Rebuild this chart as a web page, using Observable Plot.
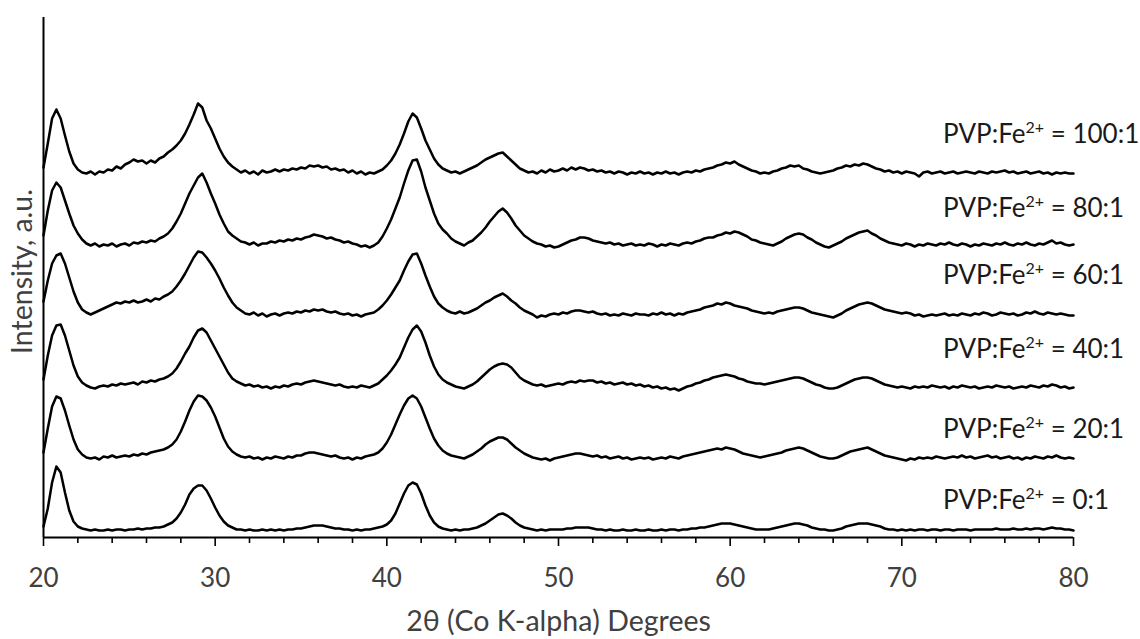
<!DOCTYPE html>
<html>
<head>
<meta charset="utf-8">
<script src="https://cdn.jsdelivr.net/npm/d3@7"></script>
<script src="https://cdn.jsdelivr.net/npm/@observablehq/plot@0.6"></script>
<style>
  html, body { margin: 0; padding: 0; background: #ffffff; }
  #chart { width: 1140px; height: 639px; }
</style>
</head>
<body>
<div id="chart"></div>
<script>
// ---- Data ----
// XRD patterns sampled on a 0.25° grid from 20° to 80° (2θ, Co K-alpha)
const angleStart = 20;
const angleStep = 0.25;

const samples = ["PVP:Fe2+ = 0:1", "PVP:Fe2+ = 20:1", "PVP:Fe2+ = 40:1", "PVP:Fe2+ = 60:1", "PVP:Fe2+ = 80:1", "PVP:Fe2+ = 100:1"];
const ratios = ["0:1", "20:1", "40:1", "60:1", "80:1", "100:1"];
// vertical stacking offset of each pattern (a.u.)
const offsets = [7, 79, 150, 222, 292, 364];

const pvp0 = [
  4,22,48,64,58,38,20,9,4,2,1,0,1,0,0,1,0,1,1,0,
  1,1,2,1,2,2,3,3,4,6,8,12,18,26,36,42,45,45,40,32,
  23,15,9,5,3,1,1,0,1,0,0,1,0,1,0,1,0,1,1,2,
  2,3,4,5,5,5,4,3,2,2,1,1,0,1,0,1,1,2,3,4,
  6,10,17,27,37,45,48,46,37,25,15,8,4,2,1,0,1,0,1,1,
  2,3,5,7,10,13,16,17,15,12,8,5,3,2,1,0,1,0,1,1,
  1,1,2,2,3,3,3,3,2,1,1,0,1,0,0,1,0,0,1,0,
  0,1,0,0,1,0,1,1,0,1,1,2,2,3,3,4,5,6,7,7,
  7,6,5,4,3,2,1,1,1,1,2,3,4,5,6,7,7,6,5,3,
  2,1,1,0,0,1,2,4,5,6,7,7,7,6,5,4,2,1,1,0,
  1,0,1,0,1,1,0,1,1,0,1,1,0,1,1,1,0,1,1,1,
  1,1,2,1,1,1,2,1,1,2,1,2,2,1,2,3,2,2,1,1,
  0
];
const pvp20 = [
  6,30,52,62,60,48,33,19,9,4,1,0,1,-1,2,1,3,1,2,3,
  2,4,3,5,4,6,7,8,9,11,14,19,27,37,48,57,63,62,58,51,
  42,31,20,12,7,4,2,1,2,0,1,-1,1,0,2,1,0,2,1,3,
  3,5,6,6,5,4,3,2,3,1,0,1,-1,1,0,2,3,4,6,10,
  16,24,34,44,53,60,63,60,52,41,30,20,13,8,5,3,2,1,0,2,
  4,7,10,14,17,19,21,21,19,15,11,8,5,3,1,0,-1,0,-2,0,
  1,2,3,4,5,5,4,3,2,3,1,2,0,1,2,0,1,-1,0,1,
  0,1,-1,0,1,0,2,1,0,2,3,4,5,6,7,8,9,10,9,11,
  10,9,7,5,4,3,2,1,2,3,4,5,6,8,9,10,11,10,8,6,
  4,2,1,0,0,1,3,5,7,8,9,10,11,9,7,5,3,2,1,0,
  -1,-2,0,-1,1,0,1,0,2,1,0,1,2,1,3,1,2,0,1,2,
  3,1,2,0,1,2,0,1,-1,1,0,2,1,0,2,1,3,1,0,1,
  0
];
const pvp40 = [
  8,32,52,62,63,52,37,22,11,5,2,0,-1,1,2,1,3,2,4,3,
  4,5,3,6,5,7,6,8,9,11,14,19,26,34,41,50,57,59,55,47,
  39,31,23,15,9,6,4,2,3,1,2,0,1,-1,1,0,2,1,3,4,
  3,5,6,7,6,5,4,3,2,3,1,0,1,0,2,1,0,2,4,8,
  12,17,23,30,40,50,58,62,56,45,32,21,13,8,5,3,1,0,-1,1,
  3,6,10,14,18,21,23,24,23,20,15,10,7,5,3,2,3,1,2,3,
  4,3,5,6,5,7,6,7,7,5,6,4,5,3,4,5,3,4,2,3,
  1,2,0,1,-1,0,-2,-1,-3,-1,1,2,4,5,7,8,10,11,12,13,
  12,11,9,8,6,5,4,4,3,4,5,6,7,8,9,10,10,9,7,5,
  3,2,0,-1,-1,0,2,4,6,8,9,10,10,9,7,5,3,2,1,0,
  1,0,-1,1,0,1,0,2,1,0,1,-1,1,0,2,1,0,1,-1,0,
  1,0,2,1,0,1,-1,0,1,0,2,1,0,2,1,3,2,0,1,-1,
  0
];
const pvp60 = [
  14,35,52,60,62,52,38,24,13,6,3,1,3,5,7,9,11,13,12,14,
  13,15,13,14,16,14,17,16,19,21,24,29,35,42,50,58,64,63,58,52,
  45,37,28,20,13,8,5,2,1,3,0,2,-1,1,2,0,2,3,2,4,
  3,5,4,6,5,6,4,3,4,2,1,2,0,1,-1,1,2,3,6,10,
  15,21,28,35,45,54,61,62,52,40,29,19,12,8,5,3,2,4,2,3,
  5,7,10,13,15,18,20,22,19,15,12,8,5,3,1,-2,0,-1,1,2,
  1,3,2,4,5,5,4,3,4,2,1,2,0,1,0,2,1,0,2,1,
  1,0,2,1,3,1,2,0,2,1,3,4,5,6,8,9,10,12,11,13,
  12,10,9,8,7,5,4,3,2,3,2,4,5,6,7,8,8,7,5,3,
  2,1,0,-1,-2,0,2,5,7,9,11,12,13,12,10,8,6,5,4,3,
  2,3,2,0,1,-1,0,1,0,1,2,0,1,0,2,1,0,2,1,3,
  2,0,1,3,2,1,2,0,1,3,2,4,2,1,3,2,1,2,1,0,
  0
];
const pvp80 = [
  10,35,55,63,58,45,32,20,12,6,2,0,2,-1,1,0,2,-1,1,2,
  0,3,2,4,3,5,4,7,9,12,17,24,32,42,52,60,68,72,63,52,
  42,31,22,14,10,7,4,3,1,3,0,2,2,4,3,5,4,6,5,7,
  6,8,9,11,10,9,7,8,6,5,3,4,2,1,-1,0,-2,0,3,9,
  17,26,37,48,62,75,85,86,74,58,45,32,22,16,12,7,4,2,0,3,
  5,9,13,18,24,29,34,37,33,27,20,15,10,7,4,2,1,-1,0,-2,
  -1,1,3,5,6,8,8,7,5,4,3,2,3,1,2,0,1,2,0,1,
  0,2,1,-1,1,0,2,1,0,2,3,2,4,5,7,8,8,10,11,13,
  12,14,13,11,9,6,5,3,2,1,0,2,4,7,9,11,12,11,8,6,
  3,1,-1,-2,0,2,4,7,9,11,13,14,15,12,10,7,5,3,2,1,
  0,2,1,-1,1,0,2,1,0,2,1,3,1,0,2,1,-1,1,0,2,
  1,0,2,1,3,1,0,2,1,3,1,0,2,1,3,5,2,3,1,0,
  1
];
const pvp100 = [
  6,30,55,64,55,38,22,10,4,1,0,2,-1,2,1,4,3,7,5,9,
  11,14,12,13,10,13,11,15,17,21,24,28,33,40,49,59,70,66,53,45,
  35,25,17,11,7,4,1,3,0,2,-1,3,1,2,4,2,4,3,5,4,
  6,5,8,7,8,6,7,4,5,3,4,1,3,0,2,-1,1,0,2,4,
  8,13,20,29,40,52,60,56,45,33,24,15,9,5,3,1,2,0,2,4,
  6,8,11,14,16,18,20,21,17,13,9,5,3,1,2,0,3,1,4,2,
  3,5,3,6,4,6,5,3,4,2,3,1,2,0,2,1,-1,1,0,2,
  0,1,-1,1,0,2,0,1,-1,1,2,1,3,2,4,5,6,8,9,11,
  10,12,9,7,5,3,2,0,1,0,2,3,5,6,8,7,8,5,4,2,
  1,0,1,2,3,5,6,8,7,9,8,10,9,7,5,4,2,3,1,2,
  0,2,1,0,-3,1,2,0,1,2,0,1,2,0,1,2,1,0,2,1,
  0,2,1,2,3,1,2,0,1,2,0,1,2,0,1,-1,1,0,1,0,
  0
];
const patterns = [pvp0, pvp20, pvp40, pvp60, pvp80, pvp100];

const majorTicks = [20, 30, 40, 50, 60, 70, 80];
const minorTicks = [22, 24, 26, 28, 32, 34, 36, 38, 42, 44, 46, 48, 52, 54, 56, 58, 62, 64, 66, 68, 72, 74, 76, 78];
const xTitle = "2θ (Co K-alpha) Degrees";
const yTitle = "Intensity, a.u.";

// ---- Build tidy rows ----
const rows = [];
patterns.forEach((vals, i) => {
  vals.forEach((v, j) => {
    rows.push({sample: samples[i], angle: angleStart + j * angleStep, value: v + offsets[i]});
  });
});
// label layout (rendering only)
const labelRise = [30, 29, 38, 40, 37, 39];
const labelRows = samples.map((s, i) => ({sample: s, ratio: ratios[i], angle: 72.4, value: offsets[i] + labelRise[i]}));

const chart = Plot.plot({
  width: 1140,
  height: 639,
  marginLeft: 43,
  marginRight: 67,
  marginTop: 17,
  marginBottom: 102,
  style: {fontFamily: "Lato, 'Open Sans', sans-serif", background: "#ffffff", color: "#000000"},
  x: {domain: [20, 80]},
  y: {domain: [0, 520], axis: null},
  marks: [
    Plot.line(rows, {x: "angle", y: "value", z: "sample", stroke: "#000000", strokeWidth: 2.5, strokeLinejoin: "round", curve: "linear"}),
    Plot.ruleX([20], {y1: 0, y2: 520, stroke: "#000000", strokeWidth: 2}),
    Plot.ruleY([0], {x1: 20, x2: 80, stroke: "#000000", strokeWidth: 2}),
    Plot.axisX({ticks: minorTicks, tickSize: 6, tickFormat: () => "", label: null, stroke: "#000000", strokeWidth: 1.6}),
    Plot.axisX({ticks: majorTicks, tickSize: 9, tickPadding: 22, fontSize: 26, label: null, stroke: "#000000", fill: "#404040", strokeWidth: 1.6}),
    Plot.text(labelRows, {x: "angle", y: "value", text: "sample", textAnchor: "start", lineAnchor: "middle", fontSize: 26, fill: "#1a1a1a"}),
    Plot.text([xTitle], {frameAnchor: "bottom", textAnchor: "middle", lineAnchor: "middle", dy: 84, fontSize: 28.5, fill: "#404040"}),
    Plot.text([yTitle], {frameAnchor: "left", textAnchor: "middle", lineAnchor: "middle", dx: -21, dy: -6, rotate: -90, fontSize: 28.5, fill: "#404040"})
  ]
});

// superscript "2+" in the sample labels
d3.select(chart).selectAll("text").each(function() {
  const t = this.textContent;
  if (t.startsWith("PVP:Fe2+")) {
    const rest = t.slice("PVP:Fe2+".length);
    const sel = d3.select(this);
    sel.text(null);
    sel.append("tspan").text("PVP:Fe");
    sel.append("tspan").attr("dy", -10).attr("font-size", 16).text("2+");
    sel.append("tspan").attr("dy", 10).text(rest);
  }
});

document.getElementById("chart").appendChild(chart);
</script>
</body>
</html>
